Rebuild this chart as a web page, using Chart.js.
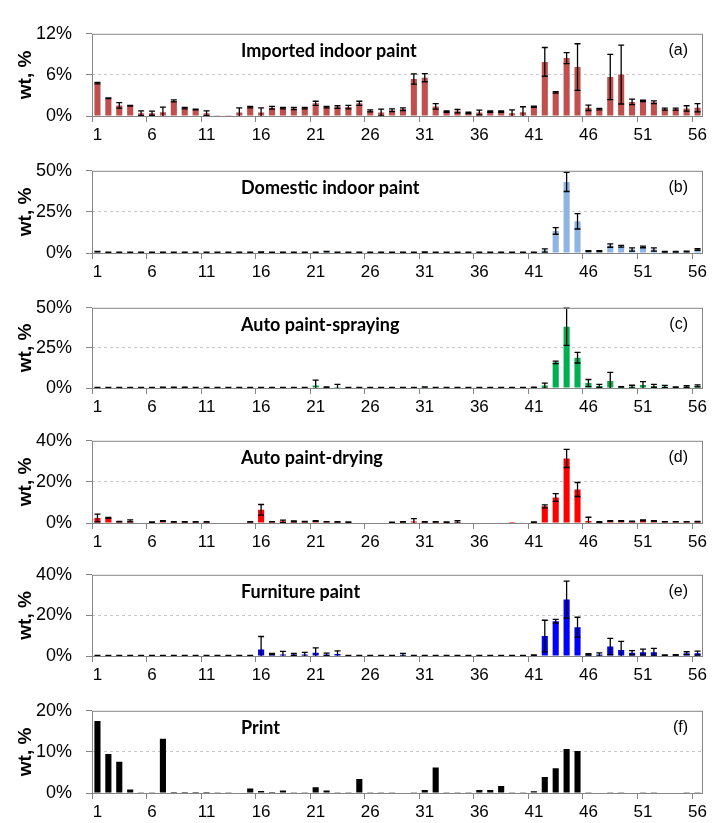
<!DOCTYPE html>
<html>
<head>
<meta charset="utf-8">
<script src="https://cdn.jsdelivr.net/npm/chart.js@4.4.1/dist/chart.umd.min.js"></script>
<style>
  body { margin: 0; background: #fff; width: 712px; height: 823px; position: relative; overflow: hidden; }
  .panel { position: absolute; left: 0; width: 712px; }
</style>
</head>
<body>
<script>
const categories = [1,2,3,4,5,6,7,8,9,10,11,12,13,14,15,16,17,18,19,20,21,22,23,24,25,26,27,28,
  29,30,31,32,33,34,35,36,37,38,39,40,41,42,43,44,45,46,47,48,49,50,51,52,53,54,55,56];

// (a) imported indoor paint
const importedIndoor = [4.8,2.6,1.55,1.5,0.4,0.4,0.55,2.2,1.15,0.95,0.4,0.05,0.05,0.5,1.3,0.5,1.2,1.15,1.1,1.15,
  1.85,1.3,1.3,1.3,1.85,0.75,0.5,0.85,1.0,5.4,5.6,1.4,0.65,0.7,0.45,0.5,0.65,0.65,0.4,0.55,
  1.35,7.9,3.45,8.45,7.15,1.2,1.0,5.7,6.05,2.05,2.2,2.0,1.0,1.0,1.1,1.2];
const importedIndoorErr = [0.1,0.05,0.4,0.05,0.35,0.3,0.75,0.15,0.1,0.05,0.35,0,0,0.7,0.1,0.7,0.2,0.1,0.15,0.1,
  0.3,0.1,0.2,0.25,0.3,0.15,0.5,0.2,0.2,0.75,0.6,0.4,0.1,0.25,0.1,0.35,0.1,0.1,0.5,0.8,
  0.1,2.1,0.1,0.8,3.4,0.4,0.1,3.3,4.3,0.4,0.1,0.2,0.15,0.15,0.4,0.6];

// (b) domestic indoor paint
const domesticIndoor = [0.8,0.3,0.3,0.3,0.3,0.3,0.3,0.3,0.3,0.3,0.3,0.3,0.3,0.3,0.3,0.5,0.3,0.3,0.3,0.3,
  0.3,0.8,0.3,0.3,0.3,0.3,0.3,0.3,0.3,0.3,0.5,0.3,0.3,0.3,0.3,0.3,0.3,0.3,0.3,0.3,
  0.3,1.5,13.4,43.2,19.3,1.2,1.2,4.5,4.1,2.1,3.7,2.1,0.7,0.7,0.9,2.1];
const domesticIndoorErr = [0.15,0.15,0.15,0.15,0.15,0.15,0.15,0.15,0.15,0.15,0.15,0.15,0.15,0.15,0.15,0.15,0.15,0.15,0.15,0.15,
  0.15,0.15,0.15,0.15,0.15,0.15,0.15,0.15,0.15,0.15,0.15,0.15,0.15,0.15,0.15,0.15,0.15,0.15,0.15,0.15,
  0.15,1.0,2.0,5.8,4.7,0.3,0.3,1.0,0.5,1.0,0.5,1.0,0.2,0.2,0.2,0.5];

// (c) auto paint-spraying
const autoSpraying = [0.3,0.3,0.3,0.3,0.3,0.3,0.4,0.4,0.4,0.3,0.3,0.3,0.3,0.3,0.3,0.3,0.3,0.3,0.3,0.3,
  1.5,0.5,0.7,0.3,0.3,0.3,0.3,0.3,0.3,0.3,0.6,0.3,0.3,0.3,0.3,0.3,0.3,0.3,0.3,0.3,
  0.5,1.5,16.0,38.2,18.9,3.1,1.3,4.4,0.7,0.9,1.8,1.3,0.9,0.5,0.9,1.3];
const autoSprayingErr = [0.1,0.1,0.1,0.1,0.1,0.1,0.1,0.1,0.1,0.1,0.1,0.1,0.1,0.1,0.1,0.1,0.1,0.1,0.1,0.1,
  3.4,0.2,1.5,0.1,0.1,0.1,0.1,0.1,0.1,0.1,0.1,0.1,0.1,0.1,0.1,0.1,0.1,0.1,0.1,0.1,
  0.1,1.6,0.8,11.6,3.3,2.2,1.0,5.4,0.2,0.8,2.2,1.0,0.7,0.2,0.6,0.6];

// (d) auto paint-drying
const autoDrying = [2.4,2.5,0.7,1.0,0.2,0.4,1.0,0.5,0.5,0.5,0.5,0.2,0.2,0.2,0.5,6.4,0.6,0.8,0.8,0.7,
  1.0,0.6,0.5,0.4,0.2,0.2,0.2,0.3,0.5,0.7,0.5,0.5,0.4,0.5,0.2,0.2,0.2,0.2,0.05,0.2,
  0.4,8.1,12.4,31.4,16.3,1.0,0.5,1.0,1.0,0.8,1.3,1.0,0.6,0.6,0.6,0.7];
const autoDryingErr = [1.9,0.2,0.1,0.5,0,0.1,0.2,0.1,0.1,0.1,0.1,0,0,0,0.1,2.6,0.1,0.6,0.2,0.1,
  0.2,0.1,0.1,0.1,0,0,0,0.1,0.1,1.4,0.1,0.1,0.1,0.6,0,0,0,0,0,0,
  0.1,0.7,1.9,4.4,3.4,1.8,0.2,0.2,0.2,0.1,0.2,0.2,0.1,0.1,0.1,0.1];

// (e) furniture paint
const furniture = [0.2,0.2,0.2,0.2,0.2,0.2,0.2,0.2,0.2,0.2,0.2,0.2,0.2,0.2,0.2,3.2,1.0,0.8,0.8,0.8,
  1.6,0.8,1.0,0.2,0.2,0.2,0.2,0.2,0.6,0.2,0.2,0.2,0.2,0.2,0.2,0.2,0.2,0.2,0.2,0.2,
  0.4,9.8,17.1,27.8,14.2,0.8,0.7,4.7,3.0,1.6,1.9,1.9,0.4,0.5,1.4,1.4];
const furnitureErr = [0.1,0.1,0.1,0.1,0.1,0.1,0.1,0.1,0.1,0.1,0.1,0.1,0.1,0.1,0.1,6.4,0.3,1.5,0.5,1.0,
  2.4,0.6,1.5,0.1,0.1,0.1,0.1,0.1,0.7,0.1,0.1,0.1,0.1,0.1,0.1,0.1,0.1,0.1,0.1,0.1,
  0.2,7.8,0.9,9.1,4.9,0.3,0.8,4.0,4.2,1.0,1.5,1.9,0.2,0.2,0.7,1.0];

// (f) print, no error bars
const print = [17.5,9.5,7.6,0.85,0.2,0.2,13.2,0.25,0.25,0.25,0.25,0.2,0.2,0,1.1,0.5,0.25,0.6,0.2,0.2,
  1.4,0.6,0.2,0.2,3.4,0.2,0.2,0.2,0,0.2,0.7,6.2,0.2,0.2,0.2,0.7,0.7,1.7,0.2,0.2,
  0.4,3.9,6.0,10.7,10.2,0.2,0,0.2,0.2,0,0.2,0.2,0,0,0.2,0.2];

const panels = [
  { tag: '(a)', title: 'Imported indoor paint', values: importedIndoor, errors: importedIndoorErr, color: '#C0504D', max: 12, top: 23, h: 93 },
  { tag: '(b)', title: 'Domestic indoor paint', values: domesticIndoor, errors: domesticIndoorErr, color: '#8DB4E2', max: 50, top: 160, h: 93 },
  { tag: '(c)', title: 'Auto paint-spraying', values: autoSpraying, errors: autoSprayingErr, color: '#00B050', max: 50, top: 297, h: 91 },
  { tag: '(d)', title: 'Auto paint-drying', values: autoDrying, errors: autoDryingErr, color: '#FF0000', max: 40, top: 430, h: 93 },
  { tag: '(e)', title: 'Furniture paint', values: furniture, errors: furnitureErr, color: '#0000FF', max: 40, top: 564, h: 92 },
  { tag: '(f)', title: 'Print', values: print, errors: null, color: '#000000', max: 20, top: 700, h: 93 }
];

const PAD_TOP = 14, X_AXIS_H = 30, PLOT_LEFT = 92, PAD_RIGHT = 9;

// error bars, frame and the in-plot labels
function decor(p) {
  return {
    id: 'decor',
    afterDatasetsDraw(chart) {
      const ctx = chart.ctx, area = chart.chartArea, y = chart.scales.y;
      if (p.errors) {
        const meta = chart.getDatasetMeta(0);
        ctx.save();
        ctx.beginPath();
        ctx.rect(area.left, area.top - 1, area.right - area.left, area.bottom - area.top + 1);
        ctx.clip();
        ctx.strokeStyle = '#000';
        ctx.lineWidth = 1.3;
        meta.data.forEach((bar, i) => {
          const e = p.errors[i];
          if (!e) return;
          const v = p.values[i];
          const y1 = y.getPixelForValue(v + e), y2 = y.getPixelForValue(v - e);
          ctx.beginPath();
          ctx.moveTo(bar.x, y1); ctx.lineTo(bar.x, y2);
          ctx.moveTo(bar.x - 3, y1); ctx.lineTo(bar.x + 3, y1);
          ctx.moveTo(bar.x - 3, y2); ctx.lineTo(bar.x + 3, y2);
          ctx.stroke();
        });
        ctx.restore();
      }
      ctx.save();
      ctx.strokeStyle = '#868686';
      ctx.lineWidth = 1;
      ctx.strokeRect(area.left + 0.5, area.top + 0.5, area.right - area.left - 1, area.bottom - area.top);
      ctx.fillStyle = '#000';
      ctx.textBaseline = 'middle';
      ctx.font = 'bold 18px Lato';
      ctx.textAlign = 'left';
      ctx.fillText(p.title, 241, area.top + 17);
      ctx.font = '16px "Liberation Sans"';
      ctx.textAlign = 'right';
      ctx.fillText(p.tag, area.right - 15, area.top + 17);
      ctx.restore();
    }
  };
}

panels.forEach(p => {
  const div = document.createElement('div');
  div.className = 'panel';
  div.style.top = (p.top - PAD_TOP) + 'px';
  div.style.height = (PAD_TOP + p.h + X_AXIS_H) + 'px';
  const canvas = document.createElement('canvas');
  div.appendChild(canvas);
  document.body.appendChild(div);

  new Chart(canvas, {
    type: 'bar',
    data: {
      labels: categories,
      datasets: [{
        data: p.values,
        backgroundColor: p.color,
        borderWidth: 0,
        categoryPercentage: 1,
        barPercentage: 0.56
      }]
    },
    options: {
      responsive: true,
      maintainAspectRatio: false,
      animation: false,
      layout: { padding: { top: PAD_TOP, right: PAD_RIGHT, left: 0, bottom: 0 } },
      plugins: { legend: { display: false }, tooltip: { enabled: false } },
      scales: {
        x: {
          offset: true,
          afterFit: s => { s.height = X_AXIS_H; },
          border: { display: false },
          grid: {
            offset: true,
            drawOnChartArea: false,
            tickLength: 6,
            tickColor: c => (c.index % 5 === 0 ? '#868686' : 'rgba(0,0,0,0)')
          },
          ticks: {
            autoSkip: false,
            maxRotation: 0,
            padding: 3,
            color: '#000',
            font: { family: 'Liberation Sans', size: 17 },
            callback: (v, i) => (i % 5 === 0 ? categories[i] : '')
          }
        },
        y: {
          min: 0,
          max: p.max,
          afterFit: s => { s.width = PLOT_LEFT; },
          border: { display: false, dash: [3, 3] },
          grid: {
            color: c => (c.tick && c.tick.value === p.max / 2 ? '#c8c8c8' : 'rgba(0,0,0,0)'),
            tickColor: '#868686',
            tickLength: 6
          },
          ticks: {
            stepSize: p.max / 2,
            padding: 14,
            color: '#000',
            font: { family: 'Liberation Sans', size: 18 },
            callback: v => v + '%'
          },
          title: {
            display: true,
            text: 'wt, %',
            color: '#000',
            font: { family: 'Liberation Sans', size: 19, weight: 'bold' },
            padding: { top: 14, bottom: 0 }
          }
        }
      }
    },
    plugins: [decor(p)]
  });
});
</script>
</body>
</html>
